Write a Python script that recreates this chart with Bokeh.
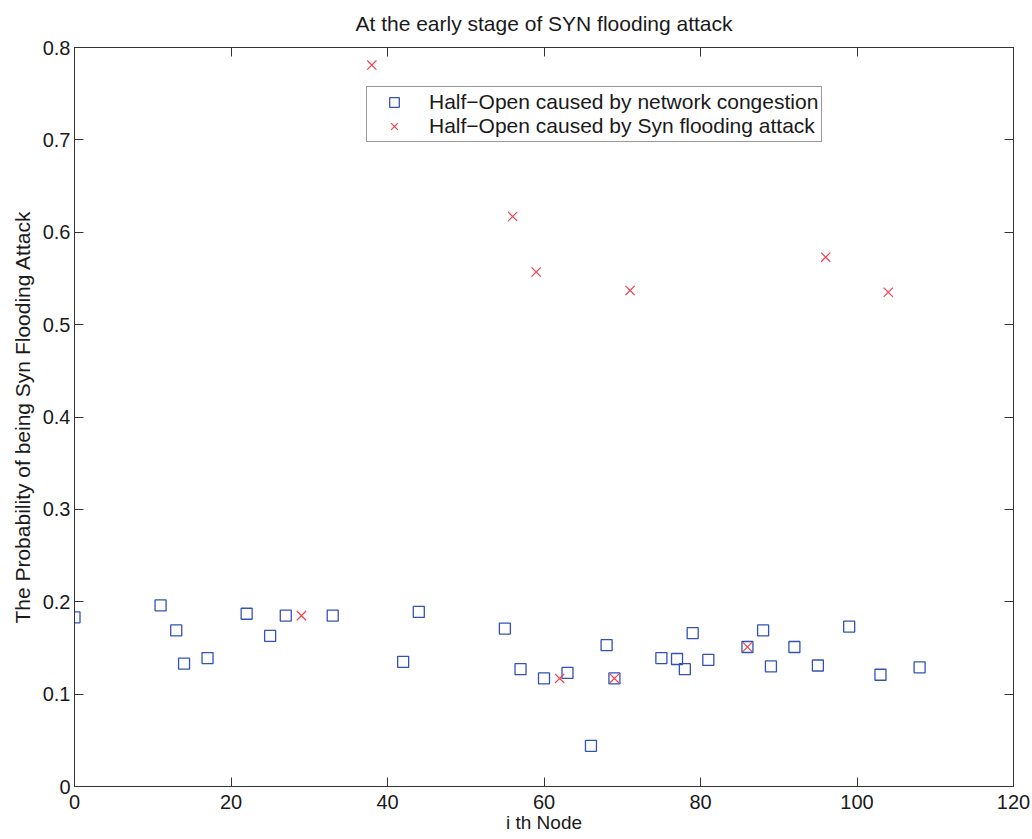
from bokeh.plotting import figure
from bokeh.models import (Range1d, FixedTicker, LinearAxis, PrintfTickFormatter,
                          CustomJSTickFormatter, Legend, LegendItem)
from bokeh.embed import file_html
from bokeh.resources import INLINE

# --- data ---
congestion_x = [0, 11, 13, 14, 17, 22, 25, 27, 33, 42, 44, 55, 57, 60, 63, 66, 68, 69,
                75, 77, 78, 79, 81, 86, 88, 89, 92, 95, 99, 103, 108]
congestion_y = [0.183, 0.196, 0.169, 0.133, 0.139, 0.187, 0.163, 0.185, 0.185, 0.135,
                0.189, 0.171, 0.127, 0.117, 0.123, 0.044, 0.153, 0.117,
                0.139, 0.138, 0.127, 0.166, 0.137, 0.151, 0.169, 0.130, 0.151, 0.131,
                0.173, 0.121, 0.129]
attack_x = [29, 38, 56, 59, 62, 69, 71, 86, 96, 104]
attack_y = [0.185, 0.781, 0.617, 0.557, 0.117, 0.117, 0.537, 0.151, 0.573, 0.535]

x_ticks = [0, 20, 40, 60, 80, 100, 120]
y_ticks = [0, 0.1, 0.2, 0.3, 0.4, 0.5, 0.6, 0.7, 0.8]

title_text = "At the early stage of SYN flooding attack"
x_label = "i th Node"
y_label = "The Probability of being Syn Flooding Attack"
legend_labels = ["Half\u2212Open caused by network congestion",
                 "Half\u2212Open caused by Syn flooding attack"]

AXIS_COLOR = "#333333"
TEXT_COLOR = "#1a1a1a"
BLUE = "#3352b5"
RED = "#f0404f"
FONT = "Liberation Sans"

p = figure(width=1032, height=839, output_backend="svg", toolbar_location=None,
           x_range=Range1d(0, 120), y_range=Range1d(0, 0.8),
           min_border_left=74, min_border_right=19, min_border_top=47,
           min_border_bottom=53, background_fill_color="white",
           border_fill_color="white")

p.title.text = title_text
p.title.align = "center"
p.title.vertical_align = "top"
p.title.text_font = FONT
p.title.text_font_size = "21px"
p.title.text_font_style = "normal"
p.title.text_color = TEXT_COLOR
p.title.standoff = 22

p.xgrid.visible = False
p.ygrid.visible = False
p.outline_line_color = AXIS_COLOR
p.outline_line_width = 1

def style_axis(ax, show_labels=True):
    ax.axis_line_color = AXIS_COLOR
    ax.axis_line_width = 1
    ax.major_tick_in = 9
    ax.major_tick_out = 0
    ax.major_tick_line_color = AXIS_COLOR
    ax.minor_tick_line_color = None
    ax.major_label_text_font = FONT
    ax.major_label_text_font_size = "20px"
    ax.major_label_text_color = TEXT_COLOR
    ax.major_label_standoff = 5 if show_labels else 0
    ax.axis_label_text_font = FONT
    ax.axis_label_text_font_size = "20px"
    ax.axis_label_text_font_style = "normal"
    ax.axis_label_text_color = TEXT_COLOR

xa = p.xaxis[0]
ya = p.yaxis[0]
xa.ticker = FixedTicker(ticks=x_ticks)
ya.ticker = FixedTicker(ticks=y_ticks)
xa.formatter = PrintfTickFormatter(format="%g")
ya.formatter = PrintfTickFormatter(format="%g")
style_axis(xa)
style_axis(ya)
xa.axis_label = x_label
ya.axis_label = y_label
xa.major_label_standoff = 8
xa.axis_label_standoff = 0
xa.axis_label_text_font_size = "19px"
ya.major_label_standoff = 4
ya.axis_label_standoff = 6
ya.axis_label_text_font_size = "21px"

blank = CustomJSTickFormatter(code="return ''")
top = LinearAxis(ticker=FixedTicker(ticks=x_ticks), formatter=blank)
right = LinearAxis(ticker=FixedTicker(ticks=y_ticks), formatter=blank)
style_axis(top, False)
style_axis(right, False)
p.add_layout(top, "above")
p.add_layout(right, "right")

r1 = p.scatter(congestion_x, congestion_y, marker="square", size=11,
               fill_color=None, line_color=BLUE, line_width=1.3)
r2 = p.scatter(attack_x, attack_y, marker="x", size=13,
               line_color=RED, line_width=1.2)

legend = Legend(items=[LegendItem(label=legend_labels[0], renderers=[r1]),
                       LegendItem(label=legend_labels[1], renderers=[r2])],
                location=(292, 644), orientation="vertical",
                label_text_font=FONT, label_text_font_size="21px",
                label_text_color=TEXT_COLOR,
                border_line_color=AXIS_COLOR, border_line_width=1,
                background_fill_color="white", background_fill_alpha=1,
                padding=3, spacing=0, margin=0,
                glyph_width=48, glyph_height=24, label_height=24,
                label_standoff=11)
p.add_layout(legend, "center")

open("out.html", "w").write(file_html(p, INLINE))
